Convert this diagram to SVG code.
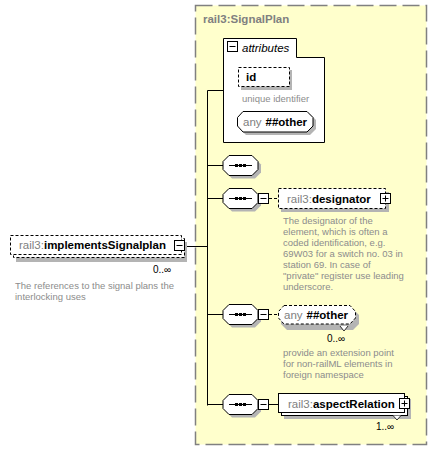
<svg xmlns="http://www.w3.org/2000/svg" width="437" height="451" viewBox="0 0 437 451">
<style>
text{font-family:"Liberation Sans",Arial,sans-serif}
.lbl{font-size:11.5px;fill:#000}
.ns{fill:#808080;font-weight:normal}
.b{font-weight:bold}
.desc{font-size:9.5px;fill:#8c8c8c}
.occ{font-size:10px;fill:#000}
.box{fill:#fff;stroke:#000;stroke-width:1}
.dbox{fill:#fff;stroke:#000;stroke-width:1;stroke-dasharray:3,2}
.shadow{fill:#b4b4b4;stroke:none}
.conn{stroke:#000;stroke-width:1;fill:none}
.dconn{stroke:#000;stroke-width:1;fill:none;stroke-dasharray:3,2}
.icon{fill:#fff;stroke:#000;stroke-width:1}
</style>
<defs>
<g id="seq">
<path class="shadow" d="M9,3 H32 L38,9 V17 L32,23 H9 L3,17 V9 Z"/>
<path class="box" d="M6,0 H29 L35,6 V14 L29,20 H6 L0,14 V6 Z"/>
<line x1="6" y1="10" x2="29" y2="10" stroke="#000" stroke-width="1"/>
<rect x="12" y="8.5" width="3" height="3" fill="#000"/>
<rect x="16" y="8.5" width="3" height="3" fill="#000"/>
<rect x="20" y="8.5" width="3" height="3" fill="#000"/>
</g>
<g id="minus">
<rect class="icon" x="0.5" y="0.5" width="10" height="10"/>
<line x1="2.5" y1="5.5" x2="8.5" y2="5.5" stroke="#000"/>
</g>
<g id="plus">
<rect class="icon" x="0.5" y="0.5" width="10" height="10"/>
<line x1="2.5" y1="5.5" x2="8.5" y2="5.5" stroke="#000"/>
<line x1="5.5" y1="2.5" x2="5.5" y2="8.5" stroke="#000"/>
</g>
</defs>

<g id="signalplan-type">
<rect x="195.5" y="5.5" width="231" height="439" fill="#ffffcc" stroke="#808080" stroke-width="1.5" stroke-dasharray="17,6"/>
<text x="203" y="23" font-size="11.5px" font-weight="bold" fill="#808080">rail3:SignalPlan</text>
</g>

<g id="connectors">
<line class="conn" x1="185" y1="246.5" x2="207.5" y2="246.5"/>
<line class="conn" x1="207.5" y1="90.5" x2="207.5" y2="405.5"/>
<line class="conn" x1="207.5" y1="90.5" x2="223" y2="90.5"/>
<line class="conn" x1="207.5" y1="165.5" x2="223" y2="165.5"/>
<line class="conn" x1="207.5" y1="198.5" x2="223" y2="198.5"/>
<line class="conn" x1="207.5" y1="314.5" x2="223" y2="314.5"/>
<line class="conn" x1="207.5" y1="404.5" x2="223" y2="404.5"/>
<line class="dconn" x1="269" y1="198.5" x2="278" y2="198.5"/>
<line class="dconn" x1="269" y1="314.5" x2="278" y2="314.5"/>
<line class="conn" x1="269" y1="404.5" x2="278" y2="404.5"/>
</g>

<g id="implementsSignalplan">
<rect class="shadow" x="16" y="242" width="171" height="20"/>
<rect class="dbox" x="13.5" y="238.5" width="171" height="19"/>
<rect class="dbox" x="10.5" y="235.5" width="171" height="19"/>
<text class="lbl" x="19" y="249"><tspan class="ns">rail3:</tspan><tspan class="b">implementsSignalplan</tspan></text>
<use href="#minus" x="174" y="240"/>
<text class="occ" x="153" y="273">0..∞</text>
<text class="desc" x="15" y="289">The references to the signal plans the</text>
<text class="desc" x="15" y="300">interlocking uses</text>
</g>

<g id="attributes">
<path class="box" d="M223.5,38.5 H296.5 V57.5 H324.5 V142.5 H223.5 Z"/>
<use href="#minus" x="227" y="41"/>
<text x="242" y="52" font-size="11.5px" font-style="italic" fill="#000">attributes</text>
</g>

<g id="attr-id">
<rect class="shadow" x="241" y="70" width="51" height="20"/>
<rect class="dbox" x="238.5" y="67.5" width="51" height="19"/>
<text class="lbl b" x="246" y="81">id</text>
<text class="desc" x="242" y="102" font-size="8.5px" fill="#a0a0a0">unique identifier</text>
</g>

<g id="attr-any">
<path class="shadow" d="M246,114 H310 L316,120 V129 L310,135 H246 L240,129 V120 Z"/>
<path class="box" d="M243,111.5 H307 L313,117.5 V126 L307,132 H243 L237.5,126 V117.5 Z"/>
<text class="lbl" x="243" y="126"><tspan fill="#808080">any</tspan><tspan class="b" dx="4">##other</tspan></text>
</g>

<g id="seq1">
<use href="#seq" x="223" y="155.5"/>
</g>

<g id="seq2">
<use href="#seq" x="223" y="188.5"/>
<use href="#minus" x="258" y="193"/>
</g>

<g id="designator">
<rect class="shadow" x="281" y="192" width="108" height="20"/>
<rect class="dbox" x="278.5" y="188.5" width="107" height="20"/>
<text class="lbl" x="287" y="203"><tspan class="ns">rail3:</tspan><tspan class="b">designator</tspan></text>
<use href="#plus" x="380" y="193"/>
<text class="desc" x="283" y="224">The designator of the</text>
<text class="desc" x="283" y="235">element, which is often a</text>
<text class="desc" x="283" y="245.5">coded identification, e.g.</text>
<text class="desc" x="283" y="256.5">69W03 for a switch no. 03 in</text>
<text class="desc" x="283" y="267.5">station 69. In case of</text>
<text class="desc" x="283" y="278.5">"private" register use leading</text>
<text class="desc" x="283" y="289.5">underscore.</text>
</g>

<g id="seq3">
<use href="#seq" x="223" y="304.5"/>
<use href="#minus" x="258" y="309"/>
</g>

<g id="any-other">
<path class="shadow" d="M287,309 H353 L359,315 V324 L353,330 H287 L281,324 V315 Z"/>
<path d="M340,326 L344,331 L348,326" fill="#fff" stroke="#000" stroke-width="0.8"/>
<path class="dbox" d="M284,305.5 H350 L355.5,311.5 V318 L350,324 H284 L278.5,318 V311.5 Z"/>
<text class="lbl" x="284" y="319"><tspan fill="#808080">any</tspan><tspan class="b" dx="4">##other</tspan></text>
<text class="occ" x="327" y="342">0..∞</text>
<text class="desc" x="283" y="356">provide an extension point</text>
<text class="desc" x="283" y="367">for non-railML elements in</text>
<text class="desc" x="283" y="378">foreign namespace</text>
</g>

<g id="seq4">
<use href="#seq" x="223" y="394.5"/>
<use href="#minus" x="258" y="399"/>
</g>

<g id="aspectRelation">
<rect class="shadow" x="284" y="399" width="127" height="20"/>
<rect class="box" x="281.5" y="396.5" width="126" height="19"/>
<rect class="box" x="278.5" y="393.5" width="126" height="19"/>
<path d="M393,415.5 L397,420 L401,415.5" fill="#fff" stroke="#000" stroke-width="0.8"/>
<text class="lbl" x="288" y="408"><tspan class="ns">rail3:</tspan><tspan class="b">aspectRelation</tspan></text>
<use href="#plus" x="399" y="398"/>
<text class="occ" x="376" y="430">1..∞</text>
</g>
</svg>
